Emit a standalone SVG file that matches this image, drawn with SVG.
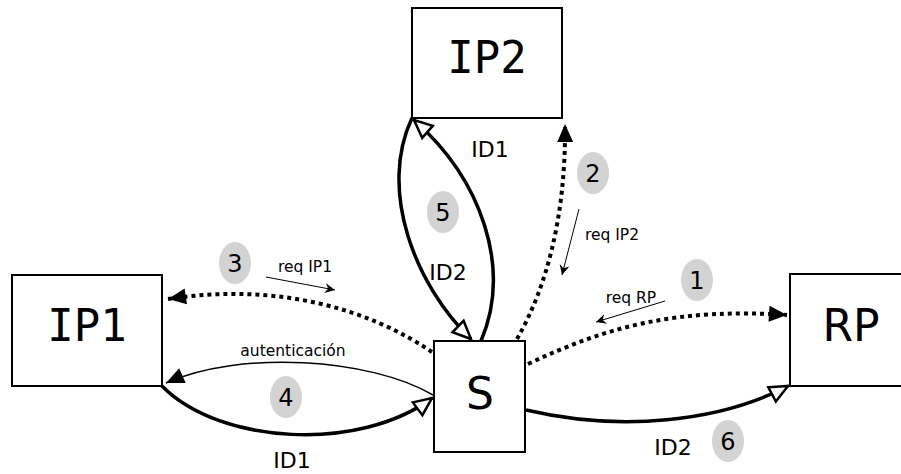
<svg xmlns="http://www.w3.org/2000/svg" width="901" height="474" viewBox="0 0 901 474">
<style>
.box{fill:#fff;stroke:#000;stroke-width:2}
.mono{font-family:"DejaVu Sans Mono",monospace;font-size:44px;fill:#000}
.sans{font-family:"DejaVu Sans",sans-serif;fill:#000}
.big{font-size:44px}
.lbl{font-size:22px}
.num{font-size:24px}
.sm{font-size:15.5px}
.bub{fill:#d3d3d3}
.thick{fill:none;stroke:#000;stroke-width:3.5}
.thin{fill:none;stroke:#000;stroke-width:1.5}
.dot{fill:none;stroke:#000;stroke-width:4;stroke-dasharray:4 4}
.hair{fill:none;stroke:#000;stroke-width:1}
</style>
<defs>
<marker id="openBig" viewBox="0 0 22 22" refX="20" refY="11" markerWidth="22" markerHeight="22" markerUnits="userSpaceOnUse" orient="auto">
<path d="M2,3 L20,11 L2,19 Z" fill="#fff" stroke="#000" stroke-width="2.5"/>
</marker>
<marker id="fill" viewBox="0 0 22 22" refX="20" refY="11" markerWidth="22" markerHeight="22" markerUnits="userSpaceOnUse" orient="auto">
<path d="M2,3 L20,11 L2,19 Z" fill="#000"/>
</marker>
<marker id="vee" viewBox="0 0 12 12" refX="11" refY="6" markerWidth="12" markerHeight="12" markerUnits="userSpaceOnUse" orient="auto">
<path d="M1,1 L11,6 L1,11 L4,6 Z" fill="#000"/>
</marker>
</defs>

<g id="connectors">
<path class="thick" d="M412,118 C378,190 415,285 471,339" marker-end="url(#openBig)"/>
<path class="thick" d="M481,341 C512,268 482,180 414,120" marker-end="url(#openBig)"/>
<path class="dot" d="M517,339 C545,290 566,220 565,124" marker-end="url(#fill)"/>
<path class="dot" d="M432,352 C370,310 280,282 168,299" marker-end="url(#fill)"/>
<path class="dot" d="M528,364 C610,325 680,308 787,315" marker-end="url(#fill)"/>
<path class="thin" d="M433,395 C370,358 240,350 166,383" marker-end="url(#fill)"/>
<path class="thick" d="M162,386 C220,445 360,452 432,398" marker-end="url(#openBig)"/>
<path class="thick" d="M526,410 C620,432 720,422 788,386" marker-end="url(#openBig)"/>
<path class="hair" d="M266,277 L335,290" marker-end="url(#vee)"/>
<path class="hair" d="M579,209 L562,275" marker-end="url(#vee)"/>
<path class="hair" d="M665,301 L596,322" marker-end="url(#vee)"/>
</g>

<g id="IP2">
<rect class="box" x="412" y="8" width="150" height="110"/>
<text class="mono" x="487" y="73" text-anchor="middle">IP2</text>
</g>
<g id="IP1">
<rect class="box" x="12" y="275" width="150" height="111"/>
<text class="mono" x="87" y="341" text-anchor="middle">IP1</text>
</g>
<g id="S">
<rect class="box" x="434" y="341" width="91" height="111"/>
<text class="sans big" x="480" y="409" text-anchor="middle">S</text>
</g>
<g id="RP">
<rect class="box" x="790" y="274" width="115" height="112"/>
<text class="sans big" x="851" y="341" text-anchor="middle">RP</text>
</g>

<g id="labels">
<ellipse class="bub" cx="697" cy="280" rx="16" ry="21"/>
<text class="sans num" x="697" y="289" text-anchor="middle">1</text>
<ellipse class="bub" cx="593" cy="173" rx="16" ry="21"/>
<text class="sans num" x="593" y="182" text-anchor="middle">2</text>
<ellipse class="bub" cx="235" cy="263" rx="16" ry="21"/>
<text class="sans num" x="235" y="272" text-anchor="middle">3</text>
<ellipse class="bub" cx="286" cy="397" rx="16" ry="21"/>
<text class="sans num" x="286" y="406" text-anchor="middle">4</text>
<ellipse class="bub" cx="443" cy="212" rx="16" ry="21"/>
<text class="sans num" x="443" y="221" text-anchor="middle">5</text>
<ellipse class="bub" cx="728" cy="441" rx="16" ry="21"/>
<text class="sans num" x="728" y="450" text-anchor="middle">6</text>

<text class="sans lbl" x="490" y="157" text-anchor="middle">ID1</text>
<text class="sans lbl" x="448" y="280" text-anchor="middle">ID2</text>
<text class="sans lbl" x="292" y="468" text-anchor="middle">ID1</text>
<text class="sans lbl" x="673" y="455" text-anchor="middle">ID2</text>
<text class="sans sm" x="305" y="272" text-anchor="middle">req IP1</text>
<text class="sans sm" x="612" y="240" text-anchor="middle">req IP2</text>
<text class="sans sm" x="631" y="303" text-anchor="middle">req RP</text>
<text class="sans sm" x="293" y="356" text-anchor="middle">autenticación</text>
</g>
</svg>
